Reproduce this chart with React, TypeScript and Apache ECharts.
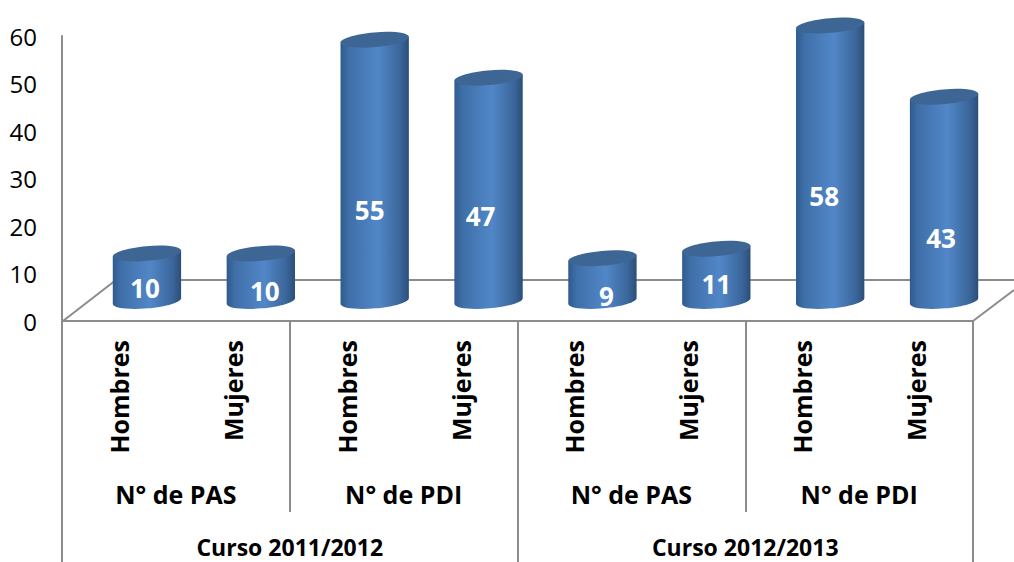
import React, { useEffect, useRef } from "react";
import * as echarts from "echarts";

const categories = ["Hombres", "Mujeres", "Hombres", "Mujeres", "Hombres", "Mujeres", "Hombres", "Mujeres"];
const groups = ["N° de PAS", "N° de PDI", "N° de PAS", "N° de PDI"];
const courses = ["Curso 2011/2012", "Curso 2012/2013"];
const values = [10, 10, 55, 47, 9, 11, 58, 43];
// Hand-placed data labels: pixel nudges from the bar's foot
const labelNudgeX = [-2, 4, -5, -8, 4, 0, -6, -3];
const labelRise = [13, 10, 91, 85, 5, 17, 105, 63];

const FONT = "Open Sans";
const GREY = "#8c8c8c";
const K = 0.5523;

// half of a tilted ellipse as two cubic segments, from its left end to its right end (or back)
function halfEllipse(cx: number, cy: number, half: number, dy: number, ry: number, upper: boolean) {
  const len = Math.hypot(half, dy);
  const bx = (ry * dy) / len;
  const by = (ry * half) / len;
  const s = upper ? -1 : 1;
  const mx = cx + s * bx;
  const my = cy + s * by;
  const lx = cx - half;
  const ly = cy + dy;
  const rx = cx + half;
  const ry2 = cy - dy;
  const p = (x: number, y: number) => `${x.toFixed(2)} ${y.toFixed(2)}`;
  return (
    `C${p(lx + s * K * bx, ly + s * K * by)} ${p(mx - K * half, my + K * dy)} ${p(mx, my)} ` +
    `C${p(mx + K * half, my - K * dy)} ${p(rx + s * K * bx, ry2 + s * K * by)} ${p(rx, ry2)} `
  );
}

function renderCylinder(params: any, api: any) {
  const i = api.value(0);
  const top = api.coord([i, api.value(1)]);
  const foot = api.coord([i, 0]);
  const w = api.size([1, 0])[0] * 0.6;
  const cx = top[0];
  const half = w / 2;
  const ry = 7.4;
  const dy = 3;
  const body =
    `M${cx - half} ${top[1] + dy} L${cx - half} ${foot[1] + dy} ` +
    halfEllipse(cx, foot[1], half, dy, ry, false) +
    `L${cx + half} ${top[1] - dy} Z`;
  const capUpper = halfEllipse(cx, top[1], half, dy, ry, true);
  const capLower = halfEllipse(cx, top[1], half, dy, ry, false);
  const cap = `M${cx - half} ${top[1] + dy} ${capUpper}L${cx - half} ${top[1] + dy} ${capLower}Z`;
  return {
    type: "group",
    children: [
      {
        type: "path",
        shape: { pathData: body },
        style: {
          fill: new echarts.graphic.LinearGradient(0, 0, 1, 0, [
            { offset: 0, color: "#2f5a8c" },
            { offset: 0.12, color: "#3f6fa8" },
            { offset: 0.55, color: "#5187c8" },
            { offset: 0.88, color: "#3a6599" },
            { offset: 1, color: "#2b4e78" },
          ]),
        },
      },
      {
        type: "path",
        shape: { pathData: cap },
        style: { fill: "#3d6695" },
      },
      {
        type: "text",
        style: {
          text: String(api.value(1)),
          x: cx + labelNudgeX[i],
          y: foot[1] - labelRise[i],
          align: "center",
          verticalAlign: "middle",
          fill: "#ffffff",
          font: `bold 26px "${FONT}"`,
        },
      },
    ],
  };
}

export default function App() {
  const ref = useRef<HTMLDivElement>(null);
  useEffect(() => {
    document.body.style.margin = "0";
    const chart = echarts.init(ref.current!, null, { renderer: "svg" });
    const lineStyle = { color: GREY, width: 2 };
    chart.setOption({
      animation: false,
      backgroundColor: "#ffffff",
      grid: [
        { left: 62, top: 36, width: 911, height: 285 },
        { left: 90, top: 16, width: 911, height: 285 },
      ],
      graphic: [
        {
          type: "polyline",
          z: 1,
          shape: { points: [[63, 321], [116, 280], [1014, 280]] },
          style: { stroke: GREY, lineWidth: 2, fill: "none" },
        },
        {
          type: "line",
          z: 1,
          shape: { x1: 973, y1: 321, x2: 1014, y2: 290 },
          style: { stroke: GREY, lineWidth: 2 },
        },
      ],
      xAxis: [
        {
          gridIndex: 0,
          type: "category",
          data: categories,
          axisLine: { show: true, lineStyle },
          axisTick: { show: false },
          axisLabel: {
            interval: 0,
            rotate: 90,
            margin: 19,
            color: "#000",
            fontFamily: FONT,
            fontWeight: "bold",
            fontSize: 25,
          },
        },
        {
          gridIndex: 0,
          type: "category",
          position: "bottom",
          data: groups,
          axisLine: { show: false },
          axisTick: { show: true, interval: 0, length: 191, lineStyle },
          axisLabel: {
            interval: 0,
            margin: 160,
            color: "#000",
            fontFamily: FONT,
            fontWeight: "bold",
            fontSize: 25,
          },
        },
        {
          gridIndex: 0,
          type: "category",
          position: "bottom",
          data: courses,
          axisLine: { show: false },
          axisTick: { show: true, interval: 0, length: 241, lineStyle },
          axisLabel: {
            interval: 0,
            margin: 214,
            color: "#000",
            fontFamily: FONT,
            fontWeight: "bold",
            fontSize: 23,
          },
        },
        { gridIndex: 1, type: "category", data: categories, show: false },
      ],
      yAxis: [
        {
          gridIndex: 0,
          type: "value",
          min: 0,
          max: 60,
          interval: 10,
          splitLine: { show: false },
          axisLine: { show: true, lineStyle },
          axisTick: { show: false },
          axisLabel: { margin: 25, color: "#000", fontFamily: FONT, fontSize: 24 },
        },
        { gridIndex: 1, type: "value", min: 0, max: 60, interval: 10, show: false },
      ],
      series: [
        {
          type: "custom",
          xAxisIndex: 3,
          yAxisIndex: 1,
          clip: false,
          z: 5,
          encode: { x: 0, y: 1 },
          data: values.map((v, i) => [i, v]),
          renderItem: renderCylinder,
        },
      ],
    });
    return () => chart.dispose();
  }, []);
  return <div ref={ref} style={{ position: "absolute", left: 0, top: 0, width: 1014, height: 562 }} />;
}
